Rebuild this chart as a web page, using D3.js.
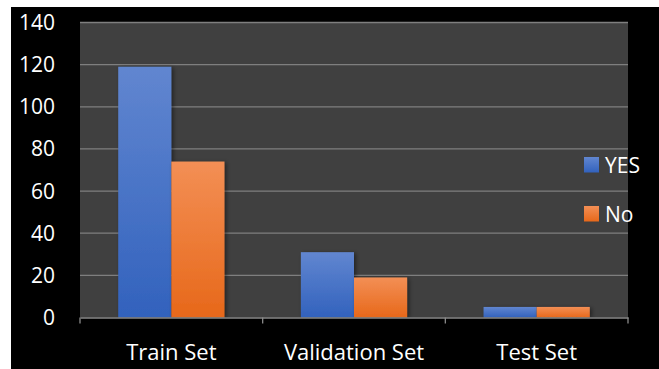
<!DOCTYPE html>
<html>
<head>
<meta charset="utf-8">
<script src="https://cdn.jsdelivr.net/npm/d3@7/dist/d3.min.js"></script>
<style>
  html, body { margin: 0; padding: 0; background: #ffffff; }
  svg { display: block; }
</style>
</head>
<body>
<svg id="chart" width="659" height="369"></svg>
<script>
// Class counts per data split
const categories = ["Train Set", "Validation Set", "Test Set"];
const seriesNames = ["YES", "No"];
const yesValues = [119, 31, 5];
const noValues = [74, 19, 5];
const yTicks = [0, 20, 40, 60, 80, 100, 120, 140];

const W = 659, H = 369;
const plot = { left: 80, right: 628, top: 22.5, bottom: 317.5 };
const font = "'Open Sans', Lato, sans-serif";

const svg = d3.select("#chart");
const defs = svg.append("defs");

function grad(id, top, bottom) {
  const g = defs.append("linearGradient").attr("id", id)
    .attr("x1", 0).attr("y1", 0).attr("x2", 0).attr("y2", 1);
  g.append("stop").attr("offset", "0%").attr("stop-color", top);
  g.append("stop").attr("offset", "100%").attr("stop-color", bottom);
}
grad("gYes", "#6186d0", "#3262bd");
grad("gNo", "#f38f55", "#e7681a");

const shadow = defs.append("filter").attr("id", "shadow")
  .attr("x", "-20%").attr("y", "-20%").attr("width", "150%").attr("height", "150%");
shadow.append("feDropShadow").attr("dx", 2).attr("dy", 1)
  .attr("stdDeviation", 2).attr("flood-color", "#000").attr("flood-opacity", 0.45);

// frame
svg.append("rect").attr("x", 11).attr("y", 7).attr("width", W - 11).attr("height", H - 7)
  .attr("fill", "#000000");
svg.append("rect").attr("x", plot.left).attr("y", plot.top)
  .attr("width", plot.right - plot.left).attr("height", plot.bottom - plot.top)
  .attr("fill", "#404040");

const y = d3.scaleLinear().domain([0, 140]).range([plot.bottom, plot.top]);
const x0 = d3.scaleBand().domain(categories).range([plot.left, plot.right]);
const x1 = d3.scaleBand().domain(seriesNames)
  .range([0, x0.bandwidth()]).paddingOuter(0.72).paddingInner(0);

// gridlines
svg.append("g").selectAll("line").data(yTicks.filter(d => d > 0)).join("line")
  .attr("x1", plot.left).attr("x2", plot.right)
  .attr("y1", d => y(d)).attr("y2", d => y(d))
  .attr("stroke", "#7f7f7f").attr("stroke-width", 1.3);

// bars
const rows = categories.map((c, i) => ({ cat: c, vals: [
  { key: "YES", v: yesValues[i] }, { key: "No", v: noValues[i] } ] }));
const fills = { YES: "url(#gYes)", No: "url(#gNo)" };

svg.append("g").selectAll("g").data(rows).join("g")
  .attr("transform", d => `translate(${x0(d.cat)},0)`)
  .selectAll("rect").data(d => d.vals).join("rect")
  .attr("x", d => x1(d.key)).attr("width", x1.bandwidth())
  .attr("y", d => y(d.v)).attr("height", d => y(0) - y(d.v))
  .attr("fill", d => fills[d.key]).attr("filter", "url(#shadow)");

// y axis labels
svg.append("g").selectAll("text").data(yTicks).join("text")
  .attr("x", 55).attr("y", d => y(d)).attr("dy", "0.36em")
  .attr("text-anchor", "end").attr("fill", "#ffffff")
  .attr("font-family", font).attr("font-size", 21).text(d => d);

// x axis
const xAxis = d3.axisBottom(x0).tickSize(0).tickFormat("");
const gx = svg.append("g").attr("transform", `translate(0,${plot.bottom})`).call(xAxis);
gx.select(".domain").attr("stroke", "#8a8a8a").attr("stroke-width", 1.5);
const bounds = [plot.left, ...categories.map(c => x0(c) + x0.bandwidth())];
gx.selectAll(".sep").data(bounds).join("line").attr("class", "sep")
  .attr("x1", d => d).attr("x2", d => d).attr("y1", 0).attr("y2", 6)
  .attr("stroke", "#8a8a8a").attr("stroke-width", 1.3);
svg.append("g").selectAll("text").data(categories).join("text")
  .attr("x", d => x0(d) + x0.bandwidth() / 2).attr("y", 360)
  .attr("text-anchor", "middle").attr("fill", "#ffffff")
  .attr("font-family", font).attr("font-size", 22).text(d => d);

// legend
const legend = svg.append("g").selectAll("g").data(seriesNames).join("g")
  .attr("transform", (d, i) => `translate(584,${157 + i * 49})`);
legend.append("rect").attr("width", 15).attr("height", 15.5)
  .attr("fill", d => fills[d]);
legend.append("text").attr("x", 21).attr("y", 16)
  .attr("fill", "#ffffff").attr("font-family", font).attr("font-size", 21)
  .text(d => d);
</script>
</body>
</html>
